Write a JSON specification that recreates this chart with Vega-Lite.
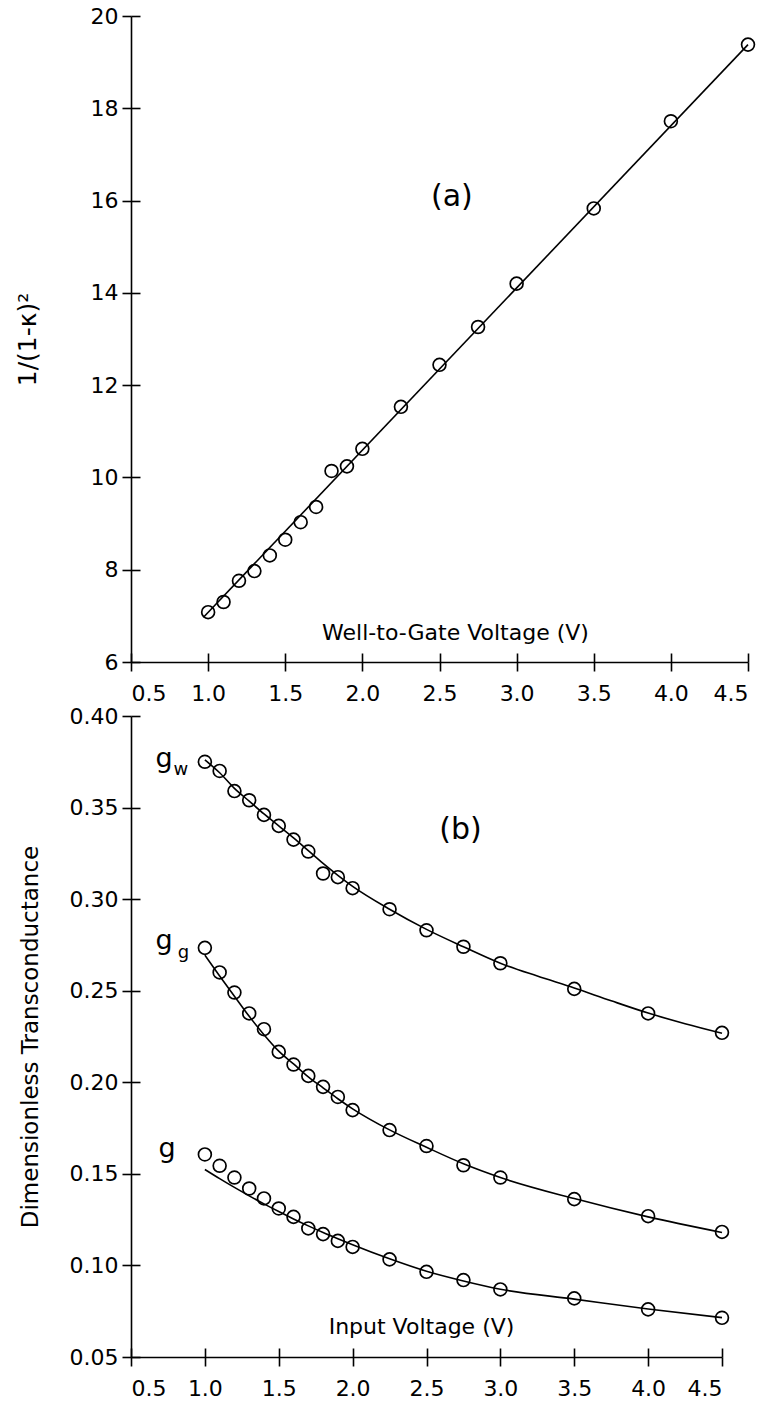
{
  "$schema": "https://vega.github.io/schema/vega-lite/v6.json",
  "background": "white",
  "padding": {"left": 15, "top": 5, "right": 10, "bottom": 2},
  "spacing": 54,
  "bounds": "flush",
  "config": {
    "view": {"stroke": null},
    "font": "DejaVu Sans",
    "axis": {
      "grid": false,
      "domainColor": "black",
      "tickColor": "black",
      "labelColor": "black",
      "titleColor": "black",
      "domainWidth": 1.6,
      "tickWidth": 1.6,
      "labelFont": "DejaVu Sans",
      "titleFont": "DejaVu Sans",
      "labelFontSize": 22,
      "titleFontWeight": "normal"
    }
  },
  "datasets": {
    "ptsA": [
      {"v": 1.0, "y": 7.08}, {"v": 1.1, "y": 7.30}, {"v": 1.2, "y": 7.76}, {"v": 1.3, "y": 7.97},
      {"v": 1.4, "y": 8.31}, {"v": 1.5, "y": 8.65}, {"v": 1.6, "y": 9.03}, {"v": 1.7, "y": 9.36},
      {"v": 1.8, "y": 10.14}, {"v": 1.9, "y": 10.24}, {"v": 2.0, "y": 10.62}, {"v": 2.25, "y": 11.53},
      {"v": 2.5, "y": 12.44}, {"v": 2.75, "y": 13.26}, {"v": 3.0, "y": 14.20}, {"v": 3.5, "y": 15.83},
      {"v": 4.0, "y": 17.72}, {"v": 4.5, "y": 19.38}
    ],
    "fitA": [{"v": 0.97, "y": 6.97}, {"v": 4.5, "y": 19.38}],
    "ptsB": [
      {"s": "gw", "v": 1.0, "y": 0.375}, {"s": "gw", "v": 1.1, "y": 0.370}, {"s": "gw", "v": 1.2, "y": 0.359},
      {"s": "gw", "v": 1.3, "y": 0.354}, {"s": "gw", "v": 1.4, "y": 0.346}, {"s": "gw", "v": 1.5, "y": 0.340},
      {"s": "gw", "v": 1.6, "y": 0.3325}, {"s": "gw", "v": 1.7, "y": 0.326}, {"s": "gw", "v": 1.8, "y": 0.314},
      {"s": "gw", "v": 1.9, "y": 0.312}, {"s": "gw", "v": 2.0, "y": 0.306}, {"s": "gw", "v": 2.25, "y": 0.2945},
      {"s": "gw", "v": 2.5, "y": 0.283}, {"s": "gw", "v": 2.75, "y": 0.274}, {"s": "gw", "v": 3.0, "y": 0.265},
      {"s": "gw", "v": 3.5, "y": 0.251}, {"s": "gw", "v": 4.0, "y": 0.2376}, {"s": "gw", "v": 4.5, "y": 0.227},
      {"s": "gg", "v": 1.0, "y": 0.2734}, {"s": "gg", "v": 1.1, "y": 0.260}, {"s": "gg", "v": 1.2, "y": 0.249},
      {"s": "gg", "v": 1.3, "y": 0.2376}, {"s": "gg", "v": 1.4, "y": 0.229}, {"s": "gg", "v": 1.5, "y": 0.2166},
      {"s": "gg", "v": 1.6, "y": 0.2097}, {"s": "gg", "v": 1.7, "y": 0.2035}, {"s": "gg", "v": 1.8, "y": 0.1975},
      {"s": "gg", "v": 1.9, "y": 0.192}, {"s": "gg", "v": 2.0, "y": 0.1848}, {"s": "gg", "v": 2.25, "y": 0.1739},
      {"s": "gg", "v": 2.5, "y": 0.1652}, {"s": "gg", "v": 2.75, "y": 0.1547}, {"s": "gg", "v": 3.0, "y": 0.148},
      {"s": "gg", "v": 3.5, "y": 0.1362}, {"s": "gg", "v": 4.0, "y": 0.1269}, {"s": "gg", "v": 4.5, "y": 0.1183},
      {"s": "g", "v": 1.0, "y": 0.1606}, {"s": "g", "v": 1.1, "y": 0.1544}, {"s": "g", "v": 1.2, "y": 0.148},
      {"s": "g", "v": 1.3, "y": 0.142}, {"s": "g", "v": 1.4, "y": 0.1366}, {"s": "g", "v": 1.5, "y": 0.1311},
      {"s": "g", "v": 1.6, "y": 0.1265}, {"s": "g", "v": 1.7, "y": 0.1202}, {"s": "g", "v": 1.8, "y": 0.1171},
      {"s": "g", "v": 1.9, "y": 0.1134}, {"s": "g", "v": 2.0, "y": 0.1101}, {"s": "g", "v": 2.25, "y": 0.1033},
      {"s": "g", "v": 2.5, "y": 0.0965}, {"s": "g", "v": 2.75, "y": 0.092}, {"s": "g", "v": 3.0, "y": 0.0869},
      {"s": "g", "v": 3.5, "y": 0.082}, {"s": "g", "v": 4.0, "y": 0.076}, {"s": "g", "v": 4.5, "y": 0.0714}
    ],
    "fitB": [
      {"s": "gw", "v": 1.0, "y": 0.376}, {"s": "gw", "v": 1.1, "y": 0.369}, {"s": "gw", "v": 1.2, "y": 0.3605},
      {"s": "gw", "v": 1.3, "y": 0.3535}, {"s": "gw", "v": 1.4, "y": 0.3465}, {"s": "gw", "v": 1.5, "y": 0.340},
      {"s": "gw", "v": 1.6, "y": 0.3335}, {"s": "gw", "v": 1.7, "y": 0.3265}, {"s": "gw", "v": 1.8, "y": 0.3195},
      {"s": "gw", "v": 1.9, "y": 0.313}, {"s": "gw", "v": 2.0, "y": 0.307}, {"s": "gw", "v": 2.25, "y": 0.2945},
      {"s": "gw", "v": 2.5, "y": 0.2835}, {"s": "gw", "v": 2.75, "y": 0.274}, {"s": "gw", "v": 3.0, "y": 0.265},
      {"s": "gw", "v": 3.25, "y": 0.258}, {"s": "gw", "v": 3.5, "y": 0.2515}, {"s": "gw", "v": 3.75, "y": 0.2445},
      {"s": "gw", "v": 4.0, "y": 0.2378}, {"s": "gw", "v": 4.25, "y": 0.232}, {"s": "gw", "v": 4.5, "y": 0.2268},
      {"s": "gg", "v": 1.0, "y": 0.2694}, {"s": "gg", "v": 1.1, "y": 0.258}, {"s": "gg", "v": 1.2, "y": 0.247},
      {"s": "gg", "v": 1.3, "y": 0.236}, {"s": "gg", "v": 1.4, "y": 0.226}, {"s": "gg", "v": 1.5, "y": 0.217},
      {"s": "gg", "v": 1.6, "y": 0.210}, {"s": "gg", "v": 1.7, "y": 0.203}, {"s": "gg", "v": 1.8, "y": 0.197},
      {"s": "gg", "v": 1.9, "y": 0.191}, {"s": "gg", "v": 2.0, "y": 0.1855}, {"s": "gg", "v": 2.25, "y": 0.174},
      {"s": "gg", "v": 2.5, "y": 0.1645}, {"s": "gg", "v": 2.75, "y": 0.1555}, {"s": "gg", "v": 3.0, "y": 0.148},
      {"s": "gg", "v": 3.5, "y": 0.1365}, {"s": "gg", "v": 4.0, "y": 0.1265}, {"s": "gg", "v": 4.5, "y": 0.118},
      {"s": "g", "v": 1.0, "y": 0.1524}, {"s": "g", "v": 1.1, "y": 0.1474}, {"s": "g", "v": 1.2, "y": 0.1426},
      {"s": "g", "v": 1.3, "y": 0.1380}, {"s": "g", "v": 1.4, "y": 0.1336}, {"s": "g", "v": 1.5, "y": 0.1294},
      {"s": "g", "v": 1.6, "y": 0.1254}, {"s": "g", "v": 1.7, "y": 0.1216}, {"s": "g", "v": 1.8, "y": 0.1180},
      {"s": "g", "v": 1.9, "y": 0.1146}, {"s": "g", "v": 2.0, "y": 0.1113}, {"s": "g", "v": 2.25, "y": 0.1036},
      {"s": "g", "v": 2.5, "y": 0.0968}, {"s": "g", "v": 2.75, "y": 0.0915}, {"s": "g", "v": 3.0, "y": 0.0870},
      {"s": "g", "v": 3.5, "y": 0.0816}, {"s": "g", "v": 4.0, "y": 0.0762}, {"s": "g", "v": 4.5, "y": 0.0715}
    ],
    "panelA": [{"t": "(a)", "v": 2.58, "y": 16.07}],
    "panelB": [{"t": "(b)", "v": 2.73, "y": 0.3376}],
    "bigB": [
      {"t": "g", "v": 0.723, "y": 0.372},
      {"t": "g", "v": 0.723, "y": 0.2727},
      {"t": "g", "v": 0.744, "y": 0.1593}
    ],
    "subB": [
      {"t": "w", "v": 0.838, "y": 0.3676},
      {"t": "g", "v": 0.855, "y": 0.2677}
    ]
  },
  "vconcat": [
    {
      "width": 617,
      "height": 646,
      "layer": [
        {
          "data": {"name": "fitA"},
          "mark": {"type": "line", "color": "black", "strokeWidth": 1.6},
          "encoding": {
            "x": {
              "field": "v", "type": "quantitative",
              "scale": {"domain": [0.5, 4.5], "nice": false, "zero": false},
              "axis": {
                "orient": "bottom",
                "values": [0.5, 1, 1.5, 2, 2.5, 3, 3.5, 4, 4.5],
                "format": ".1f", "tickSize": 9, "labelPadding": 12,
                "title": "Well-to-Gate Voltage (V)", "titleFontSize": 22,
                "titleX": 324, "titleY": -30, "titleBaseline": "middle", "titleAlign": "center"
              }
            },
            "y": {
              "field": "y", "type": "quantitative",
              "scale": {"domain": [6, 20], "nice": false, "zero": false},
              "axis": {
                "orient": "left",
                "values": [6, 8, 10, 12, 14, 16, 18, 20],
                "format": "d", "tickSize": 9, "labelPadding": 4,
                "title": "1/(1-κ)²", "titleFontSize": 25, "titlePadding": 50
              }
            }
          }
        },
        {
          "data": {"name": "ptsA"},
          "mark": {"type": "point", "shape": "circle", "filled": false, "color": "black", "size": 165, "strokeWidth": 1.7, "opacity": 1},
          "encoding": {
            "x": {
              "field": "v", "type": "quantitative",
              "axis": {"orient": "bottom", "values": [0.5, 1, 1.5, 2, 2.5, 3, 3.5, 4, 4.5], "labels": false, "domain": false, "tickSize": -9, "title": null}
            },
            "y": {
              "field": "y", "type": "quantitative",
              "axis": {"orient": "left", "values": [6, 8, 10, 12, 14, 16, 18, 20], "labels": false, "domain": false, "tickSize": -9, "title": null}
            }
          }
        },
        {
          "data": {"name": "panelA"},
          "mark": {"type": "text", "fontSize": 30, "color": "black", "font": "DejaVu Sans", "baseline": "middle", "align": "center"},
          "encoding": {
            "x": {"field": "v", "type": "quantitative", "axis": null},
            "y": {"field": "y", "type": "quantitative", "axis": null},
            "text": {"field": "t"}
          }
        }
      ],
      "resolve": {"axis": {"x": "independent", "y": "independent"}}
    },
    {
      "width": 591,
      "height": 641,
      "layer": [
        {
          "data": {"name": "fitB"},
          "mark": {"type": "line", "color": "black", "strokeWidth": 1.6, "interpolate": "monotone"},
          "encoding": {
            "x": {
              "field": "v", "type": "quantitative",
              "scale": {"domain": [0.5, 4.5], "nice": false, "zero": false},
              "axis": {
                "orient": "bottom",
                "values": [0.5, 1, 1.5, 2, 2.5, 3, 3.5, 4, 4.5],
                "format": ".1f", "tickSize": 9, "labelPadding": 12,
                "title": "Input Voltage (V)", "titleFontSize": 22,
                "titleX": 290, "titleY": -31, "titleBaseline": "middle", "titleAlign": "center"
              }
            },
            "y": {
              "field": "y", "type": "quantitative",
              "scale": {"domain": [0.05, 0.4], "nice": false, "zero": false},
              "axis": {
                "orient": "left",
                "values": [0.05, 0.1, 0.15, 0.2, 0.25, 0.3, 0.35, 0.4],
                "format": ".2f", "tickSize": 9, "labelPadding": 4,
                "title": "Dimensionless Transconductance", "titleFontSize": 23, "titlePadding": 27
              }
            },
            "detail": {"field": "s"}
          }
        },
        {
          "data": {"name": "ptsB"},
          "mark": {"type": "point", "shape": "circle", "filled": false, "color": "black", "size": 165, "strokeWidth": 1.7, "opacity": 1},
          "encoding": {
            "x": {
              "field": "v", "type": "quantitative",
              "axis": {"orient": "bottom", "values": [0.5, 1, 1.5, 2, 2.5, 3, 3.5, 4, 4.5], "labels": false, "domain": false, "tickSize": -9, "title": null}
            },
            "y": {
              "field": "y", "type": "quantitative",
              "axis": {"orient": "left", "values": [0.05, 0.1, 0.15, 0.2, 0.25, 0.3, 0.35, 0.4], "labels": false, "domain": false, "tickSize": -9, "title": null}
            },
            "detail": {"field": "s"}
          }
        },
        {
          "data": {"name": "panelB"},
          "mark": {"type": "text", "fontSize": 30, "color": "black", "font": "DejaVu Sans", "baseline": "middle", "align": "center"},
          "encoding": {
            "x": {"field": "v", "type": "quantitative", "axis": null},
            "y": {"field": "y", "type": "quantitative", "axis": null},
            "text": {"field": "t"}
          }
        },
        {
          "data": {"name": "bigB"},
          "mark": {"type": "text", "fontSize": 27, "color": "black", "font": "DejaVu Sans", "baseline": "alphabetic", "align": "center"},
          "encoding": {
            "x": {"field": "v", "type": "quantitative", "axis": null},
            "y": {"field": "y", "type": "quantitative", "axis": null},
            "text": {"field": "t"}
          }
        },
        {
          "data": {"name": "subB"},
          "mark": {"type": "text", "fontSize": 18, "color": "black", "font": "DejaVu Sans", "baseline": "alphabetic", "align": "center"},
          "encoding": {
            "x": {"field": "v", "type": "quantitative", "axis": null},
            "y": {"field": "y", "type": "quantitative", "axis": null},
            "text": {"field": "t"}
          }
        }
      ],
      "resolve": {"axis": {"x": "independent", "y": "independent"}}
    }
  ]
}
